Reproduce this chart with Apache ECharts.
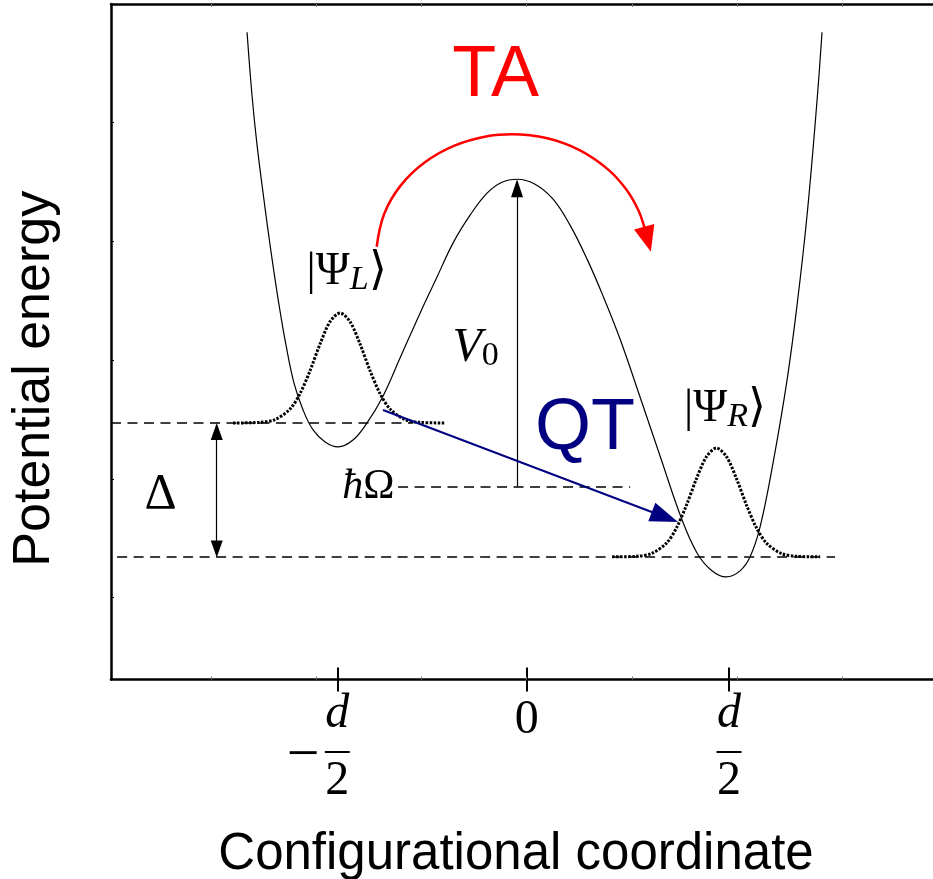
<!DOCTYPE html>
<html>
<head>
<meta charset="utf-8">
<script src="https://cdn.jsdelivr.net/npm/echarts@6/dist/echarts.min.js"></script>
<style>
html, body { margin: 0; padding: 0; background: #fff; }
#container { width: 933px; height: 879px; }
</style>
</head>
<body>
<div id="container"></div>
<script>
// x in units of the minor tick spacing (0 = barrier tick), y in units of the left ticks
const potX = [-2.656, -2.609, -2.561, -2.495, -2.428, -2.352, -2.286, -2.210, -2.124, -2.029, -1.915, -1.792, -1.650, -1.517, -1.374, -1.203, -1.013, -0.861, -0.700, -0.538, -0.377, -0.235, -0.092, 0.079, 0.250, 0.411, 0.573, 0.725, 0.886, 1.076, 1.266, 1.475, 1.617, 1.750, 1.893, 2.026, 2.121, 2.216, 2.339, 2.472, 2.567, 2.662, 2.757, 2.804];
const potY = [5.762, 5.231, 4.811, 4.348, 3.910, 3.464, 3.127, 2.807, 2.580, 2.412, 2.311, 2.269, 2.327, 2.471, 2.681, 3.018, 3.396, 3.683, 3.986, 4.221, 4.407, 4.499, 4.524, 4.482, 4.356, 4.137, 3.851, 3.540, 3.178, 2.690, 2.193, 1.654, 1.376, 1.233, 1.174, 1.225, 1.343, 1.595, 2.134, 2.832, 3.464, 4.221, 5.189, 5.762];

const psiLX = [-2.789, -2.533, -2.390, -2.248, -2.153, -2.058, -1.963, -1.868, -1.773, -1.678, -1.583, -1.488, -1.393, -1.298, -1.156, -1.013, -0.776];
const psiLY = [2.471, 2.476, 2.499, 2.588, 2.718, 2.911, 3.136, 3.324, 3.397, 3.324, 3.136, 2.911, 2.718, 2.588, 2.499, 2.476, 2.471];
const psiRX = [0.811, 1.042, 1.185, 1.327, 1.422, 1.517, 1.612, 1.707, 1.802, 1.897, 1.992, 2.087, 2.182, 2.277, 2.419, 2.562, 2.786];
const psiRY = [1.343, 1.348, 1.371, 1.459, 1.587, 1.779, 2.002, 2.187, 2.260, 2.187, 2.002, 1.779, 1.587, 1.459, 1.371, 1.348, 1.343];

// dashed levels: [x start, x end, y]
const levelL = [-3.948, -1.079, 2.471];
const levelR = [-3.890, 2.928, 1.343];
const levelHbar = [-1.222, 0.982, 1.936];

// arrows: [x1, y1, x2, y2]
const arrowV0 = [-0.092, 1.936, -0.092, 4.449];
const arrowDelta = [-2.944, 1.410, -2.944, 2.399];
const arrowQT = [-1.365, 2.580, 1.312, 1.679];

const arcX = [-1.425, -1.353, -1.198, -0.970, -0.686, -0.364, -0.140, 0.195, 0.506, 0.774, 0.944, 1.058, 1.113, 1.147];
const arcY = [3.955, 4.233, 4.470, 4.665, 4.807, 4.888, 4.903, 4.869, 4.767, 4.605, 4.439, 4.267, 4.131, 4.018];

const annoX = [-0.296, 0.554, -1.711, 1.883, -0.486, -1.504, -3.478];
const annoY = [5.391, 2.420, 3.746, 2.588, 3.098, 1.932, 1.869];
const annoText = ['{ta|TA}', '{qt|QT}', '{n|\u007c\u03a8}{s|L}{n|\u27e9}', '{n|\u007c\u03a8}{s|R}{n|\u27e9}', '{it|V}{sub|0}', '{hb|\u0127}{om|\u03a9}', '{big|\u0394}'];

const tickValues = [-1.799, 0, 1.921];
const tickLabels = ['-d/2', '0', 'd/2'];
const minorTicks = [-3, -2, -1, 0, 1, 2, 3];
const yTicks = [1, 2, 3, 4, 5];

const X_MIN = -3.948, X_MAX = 3.858, Y_MIN = 0.31, Y_MAX = 6.0;
const SERIF = 'Liberation Serif';
const SANS = 'Liberation Sans';

function zip(xs, ys) { return xs.map((x, i) => [x, ys[i]]); }

function richTick(t) {
    if (t === '0') return '{zero|0}';
    let neg = t[0] === '-';
    let parts = t.replace('-', '').split('/');
    return '{w| }{it|' + parts[0] + '}{w| }\n' +
        (neg ? '{m|\u2212}' : '{w| }') + '{bar| }{w| }\n' +
        '{w| }{num|' + parts[1] + '}{w| }';
}

let dom = document.getElementById('container');
let myChart = echarts.init(dom);

let baseX = { type: 'value', min: X_MIN, max: X_MAX, splitLine: { show: false } };

let option = {
    animation: false,
    backgroundColor: '#fff',
    grid: { left: 111, right: 0, top: 4, bottom: 199.5, outerBoundsMode: 'none' },
    xAxis: [
        Object.assign({}, baseX, {
            position: 'bottom',
            name: 'Configurational coordinate',
            nameLocation: 'middle',
            nameGap: 150,
            nameTextStyle: { fontFamily: SANS, fontSize: 51, color: '#000', padding: [0, 12, 0, 0] },
            axisLine: { onZero: false, lineStyle: { color: '#000', width: 2.5 } },
            axisTick: { customValues: tickValues, inside: false, length: 12, lineStyle: { color: '#000', width: 2 } },
            axisLabel: {
                customValues: tickValues,
                margin: 15,
                color: '#000',
                formatter: function (v) {
                    let k = 0;
                    tickValues.forEach((t, i) => { if (Math.abs(t - v) < Math.abs(tickValues[k] - v)) k = i; });
                    return richTick(tickLabels[k]);
                },
                rich: {
                    w: { width: 38, fontSize: 10, lineHeight: 1 },
                    m: { width: 38, align: 'left', fontFamily: SERIF, fontSize: 58, lineHeight: 35, padding: [9, 0, 0, 0], color: '#000' },
                    it: { width: 25, fontFamily: SERIF, fontStyle: 'italic', fontSize: 48, lineHeight: 40, color: '#000' },
                    bar: { width: 25, height: 2, fontSize: 2, lineHeight: 35, backgroundColor: '#000' },
                    num: { width: 25, fontFamily: SERIF, fontSize: 48, lineHeight: 23, color: '#000' },
                    zero: { fontFamily: SERIF, fontSize: 48, lineHeight: 52, color: '#000' }
                }
            }
        }),
        Object.assign({}, baseX, {
            position: 'bottom',
            axisLine: { show: false, onZero: false },
            axisTick: { customValues: tickValues, inside: true, length: 12, lineStyle: { color: '#000', width: 2 } },
            axisLabel: { show: false }
        }),
        Object.assign({}, baseX, {
            position: 'top',
            axisLine: { onZero: false, lineStyle: { color: '#000', width: 2.5 } },
            axisTick: { customValues: minorTicks, inside: true, length: 3, lineStyle: { color: '#777', width: 1 } },
            axisLabel: { show: false }
        }),
        Object.assign({}, baseX, {
            position: 'bottom',
            axisLine: { show: false, onZero: false },
            axisTick: { customValues: minorTicks, inside: true, length: 3, lineStyle: { color: '#777', width: 1 } },
            axisLabel: { show: false }
        })
    ],
    yAxis: {
        type: 'value',
        min: Y_MIN,
        max: Y_MAX,
        position: 'left',
        name: 'Potential energy',
        nameLocation: 'middle',
        nameGap: 50,
        nameTextStyle: { fontFamily: SANS, fontSize: 52, color: '#000', padding: [0, 74, 0, 0] },
        splitLine: { show: false },
        axisLine: { onZero: false, lineStyle: { color: '#000', width: 2.5 } },
        axisTick: { customValues: yTicks, inside: true, length: 3, lineStyle: { color: '#000', width: 1 } },
        axisLabel: { show: false }
    },
    series: [
        {
            type: 'line', name: 'potential', data: zip(potX, potY), smooth: 0.4,
            showSymbol: false, lineStyle: { color: '#000', width: 1.2 }, z: 3
        },
        {
            type: 'line', name: 'psiL', data: zip(psiLX, psiLY), smooth: 0.3,
            showSymbol: false, lineStyle: { color: '#000', width: 3, type: [2.5, 1.5] }, z: 4
        },
        {
            type: 'line', name: 'psiR', data: zip(psiRX, psiRY), smooth: 0.3,
            showSymbol: false, lineStyle: { color: '#000', width: 3, type: [2.5, 1.5] }, z: 4
        },
        {
            type: 'lines', name: 'levels', coordinateSystem: 'cartesian2d',
            data: [levelL, levelR, levelHbar].map(l => ({ coords: [[l[0], l[2]], [l[1], l[2]]] })),
            lineStyle: { color: '#000', width: 1.5, type: [10, 6.5], opacity: 1 }, z: 2
        },
        {
            type: 'lines', name: 'V0', coordinateSystem: 'cartesian2d',
            data: [{ coords: [[arrowV0[0], arrowV0[1]], [arrowV0[2], arrowV0[3]]] }],
            symbol: ['none', 'triangle'], symbolSize: [0, [12, 18]],
            lineStyle: { color: '#000', width: 1.2, opacity: 1 }, z: 5
        },
        {
            type: 'lines', name: 'Delta', coordinateSystem: 'cartesian2d',
            data: [{ coords: [[arrowDelta[0], arrowDelta[1]], [arrowDelta[2], arrowDelta[3]]] }],
            symbol: ['triangle', 'triangle'], symbolSize: [[12, 17], [12, 17]],
            lineStyle: { color: '#000', width: 1.2, opacity: 1 }, z: 5
        },
        {
            type: 'lines', name: 'QT', coordinateSystem: 'cartesian2d',
            data: [{ coords: [[arrowQT[0], arrowQT[1]], [arrowQT[2], arrowQT[3]]] }],
            symbol: ['none', 'triangle'], symbolSize: [0, [20, 28]],
            lineStyle: { color: '#000080', width: 2, opacity: 1 }, z: 6
        },
        {
            type: 'line', name: 'TA', data: zip(arcX, arcY), smooth: 0.4,
            showSymbol: false, lineStyle: { color: '#ff0000', width: 2.5 }, z: 6
        },
        {
            type: 'lines', name: 'TA head', coordinateSystem: 'cartesian2d',
            data: [{ coords: zip(arcX.slice(-2), arcY.slice(-2)) }],
            symbol: ['none', 'triangle'], symbolSize: [0, [21, 26]],
            lineStyle: { color: '#ff0000', width: 2.5, opacity: 1 }, z: 6
        },
        {
            type: 'scatter', name: 'labels', symbolSize: 1,
            itemStyle: { color: 'rgba(0,0,0,0)', opacity: 1 },
            data: annoX.map((x, i) => ({ value: [x, annoY[i]], label: { formatter: annoText[i] } })),
            label: {
                show: true, position: 'inside', align: 'center', verticalAlign: 'middle', color: '#000', opacity: 1,
                rich: {
                    ta: { fontFamily: SANS, fontSize: 72, color: '#ff0000' },
                    qt: { fontFamily: SANS, fontSize: 72, color: '#000080' },
                    n: { fontFamily: SERIF, fontSize: 46, lineHeight: 50, color: '#000' },
                    s: { fontFamily: SERIF, fontStyle: 'italic', fontSize: 34, lineHeight: 19, verticalAlign: 'bottom', color: '#000' },
                    it: { fontFamily: SERIF, fontStyle: 'italic', fontSize: 48, lineHeight: 50, color: '#000' },
                    sub: { fontFamily: SERIF, fontSize: 34, lineHeight: 27, verticalAlign: 'bottom', color: '#000' },
                    hb: { fontFamily: SERIF, fontStyle: 'italic', fontSize: 42, color: '#000' },
                    om: { fontFamily: SERIF, fontSize: 42, color: '#000' },
                    big: { fontFamily: SERIF, fontSize: 50, color: '#000' }
                }
            },
            z: 7
        }
    ]
};
myChart.setOption(option);
</script>
</body>
</html>
